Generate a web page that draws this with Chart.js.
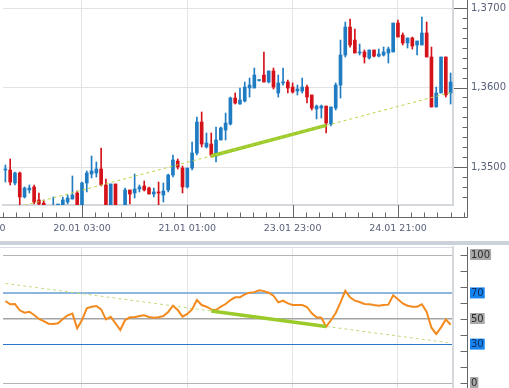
<!DOCTYPE html>
<html>
<head>
<meta charset="utf-8">
<script src="https://cdn.jsdelivr.net/npm/chart.js@4.4.1/dist/chart.umd.min.js"></script>
<style>
  html, body { margin: 0; padding: 0; background: #fff; }
  body { width: 509px; height: 388px; position: relative; overflow: hidden; }
  canvas { position: absolute; left: 0; display: block; }
  #priceChart { top: 0; }
  #rsiChart { top: 245px; }
  .sep { position: absolute; left: 0; top: 241px; width: 509px; height: 4px; background: #cbd2da; }
</style>
</head>
<body>
<canvas id="priceChart" width="509" height="241"></canvas>
<div class="sep"></div>
<canvas id="rsiChart" width="509" height="143"></canvas>
<script>
// hourly candles
const opens = [
  1.34962, 1.34962, 1.34799, 1.34925, 1.34623, 1.34711, 1.34749, 1.34585, 1.34547, 1.34500,
  1.34460, 1.34490, 1.34500, 1.34560, 1.34597, 1.34673, 1.34522, 1.34799, 1.34912, 1.34925,
  1.34975, 1.34774, 1.34510, 1.34786, 1.34510, 1.34500, 1.34711, 1.34673, 1.34723, 1.34761,
  1.34736, 1.34660, 1.34686, 1.34648, 1.34711, 1.34899, 1.35075, 1.34987, 1.34749, 1.34987,
  1.35176, 1.35566, 1.35252, 1.35289, 1.35138, 1.35340, 1.35465, 1.35541, 1.35868, 1.35792,
  1.35830, 1.35994, 1.35994, 1.36088, 1.36157, 1.36069, 1.36208, 1.35931, 1.36057, 1.36069,
  1.36006, 1.35956, 1.35956, 1.36006, 1.35906, 1.35730, 1.35742, 1.35767, 1.35541, 1.35742,
  1.36031, 1.36409, 1.36761, 1.36597, 1.36434, 1.36447, 1.36371, 1.36472, 1.36396, 1.36409,
  1.36434, 1.36447, 1.36811, 1.36660, 1.36560, 1.36623, 1.36535, 1.36535, 1.36686, 1.36384,
  1.35755, 1.35931, 1.36384, 1.35931
];
const highs = [
  1.35025, 1.35101, 1.34937, 1.34937, 1.34749, 1.34774, 1.34774, 1.34673, 1.34585, 1.34510,
  1.34623, 1.34510, 1.34623, 1.34648, 1.34887, 1.34698, 1.34811, 1.34950, 1.35138, 1.35063,
  1.35239, 1.34849, 1.34786, 1.34786, 1.34515, 1.34736, 1.34711, 1.34912, 1.34774, 1.34824,
  1.34749, 1.34736, 1.34811, 1.34799, 1.34912, 1.35151, 1.35101, 1.35013, 1.34987, 1.35314,
  1.35629, 1.35692, 1.35428, 1.35428, 1.35503, 1.35503, 1.35679, 1.35880, 1.35931, 1.35994,
  1.36069, 1.36119, 1.36245, 1.36094, 1.36447, 1.36208, 1.36245, 1.36157, 1.36245, 1.36094,
  1.36057, 1.36031, 1.36119, 1.36031, 1.35906, 1.35780, 1.35780, 1.35767, 1.35755, 1.36057,
  1.36597, 1.36824, 1.36862, 1.36736, 1.36547, 1.36472, 1.36472, 1.36472, 1.36484, 1.36509,
  1.36509, 1.36811, 1.36849, 1.36686, 1.36623, 1.36635, 1.36585, 1.36887, 1.36824, 1.36509,
  1.36006, 1.36384, 1.36384, 1.36182
];
const lows = [
  1.34811, 1.34774, 1.34774, 1.34509, 1.34610, 1.34673, 1.34535, 1.34509, 1.34509, 1.34450,
  1.34440, 1.34460, 1.34480, 1.34535, 1.34597, 1.34509, 1.34509, 1.34686, 1.34862, 1.34874,
  1.34761, 1.34490, 1.34490, 1.34490, 1.34400, 1.34490, 1.34535, 1.34610, 1.34686, 1.34698,
  1.34660, 1.34623, 1.34522, 1.34560, 1.34686, 1.34874, 1.34975, 1.34673, 1.34736, 1.34962,
  1.35151, 1.35252, 1.35239, 1.35126, 1.35063, 1.35340, 1.35340, 1.35528, 1.35792, 1.35792,
  1.35818, 1.35880, 1.35994, 1.36081, 1.36069, 1.36057, 1.35981, 1.35880, 1.36031, 1.35931,
  1.35931, 1.35906, 1.35931, 1.35805, 1.35717, 1.35604, 1.35616, 1.35428, 1.35516, 1.35717,
  1.35868, 1.36384, 1.36509, 1.36434, 1.36409, 1.36308, 1.36358, 1.36384, 1.36384, 1.36396,
  1.36308, 1.36447, 1.36635, 1.36535, 1.36497, 1.36484, 1.36409, 1.36535, 1.36384, 1.35755,
  1.35755, 1.35931, 1.35880, 1.35792
];
const closes = [
  1.34975, 1.34811, 1.34925, 1.34623, 1.34736, 1.34736, 1.34560, 1.34535, 1.34522, 1.34470,
  1.34500, 1.34500, 1.34585, 1.34610, 1.34648, 1.34522, 1.34799, 1.34925, 1.34950, 1.34975,
  1.34774, 1.34510, 1.34786, 1.34510, 1.34450, 1.34711, 1.34660, 1.34723, 1.34749, 1.34711,
  1.34660, 1.34686, 1.34673, 1.34698, 1.34899, 1.35088, 1.35000, 1.34749, 1.34987, 1.35176,
  1.35566, 1.35289, 1.35302, 1.35151, 1.35340, 1.35491, 1.35553, 1.35868, 1.35805, 1.35843,
  1.36006, 1.36031, 1.36157, 1.36094, 1.36069, 1.36208, 1.36006, 1.36057, 1.36069, 1.35994,
  1.35943, 1.35981, 1.36006, 1.35880, 1.35742, 1.35767, 1.35767, 1.35553, 1.35755, 1.36031,
  1.36409, 1.36761, 1.36535, 1.36434, 1.36447, 1.36384, 1.36472, 1.36396, 1.36421, 1.36447,
  1.36484, 1.36811, 1.36635, 1.36560, 1.36623, 1.36522, 1.36585, 1.36686, 1.36384, 1.35755,
  1.35931, 1.36384, 1.35906, 1.36069
];
const rsiValues = [
  64.1, 61.5, 61.7, 56.8, 54.9, 55.7, 53.1, 50.0, 48.4, 46.3,
  46.1, 46.6, 50.0, 52.9, 54.2, 42.7, 49.2, 58.3, 59.6, 60.2,
  57.5, 49.7, 51.8, 46.6, 41.4, 49.2, 51.3, 51.3, 52.3, 52.9,
  51.6, 51.0, 51.3, 52.3, 55.5, 60.4, 57.0, 51.8, 54.0, 57.5,
  64.8, 60.9, 59.6, 57.5, 57.0, 59.6, 61.7, 64.8, 66.9, 66.9,
  69.3, 70.6, 71.0, 72.4, 71.8, 70.5, 68.2, 63.0, 64.3, 62.2,
  60.9, 60.9, 60.9, 59.4, 54.4, 51.3, 51.0, 44.0, 49.0, 54.7,
  63.0, 72.0, 67.0, 64.3, 63.3, 61.7, 61.5, 60.9, 60.4, 60.9,
  61.2, 68.5, 65.5, 62.2, 60.4, 59.6, 59.6, 61.5, 55.5, 43.2,
  38.3, 43.5, 49.7, 45.5
];

// trend lines: endpoints only (candle index, value)
const priceTrend = [{ x: 4, y: 1.34517 }, { x: 93, y: 1.35937 }];
const priceTrendBold = [{ x: 43, y: 1.35139 }, { x: 67, y: 1.35523 }];
const rsiTrend = [{ x: 0, y: 77.8 }, { x: 93, y: 31.2 }];
const rsiTrendBold = [{ x: 43, y: 56.3 }, { x: 67, y: 44.2 }];

// axis labels
const xLabels = [[-6, '19.01 05:00'], [16, '20.01 03:00'], [38, '21.01 01:00'], [60, '23.01 23:00'], [82, '24.01 21:00']];
const xMajor = [16, 38, 60, 82];
const rsiLevels = [0, 30, 50, 70, 100];
const rsiMarks = [0, 12.5, 25, 37.5, 50, 62.5, 75, 87.5, 100];

const categories = opens.map((_, i) => i);
const blue = '#1f7cc2';
const red = '#d4121a';
const candleColors = opens.map((o, i) => closes[i] >= o ? blue : red);
const gridGrey = '#e3e3e3';
const frameGrey = '#d4d8dc';
const axisGrey = '#666';
const labelColor = '#596079';

Chart.defaults.font.family = "'DejaVu Sans', sans-serif";
Chart.defaults.font.size = 10;
Chart.defaults.animation = false;

function isMajorPrice(v) {
    return Math.abs(v * 100 - Math.round(v * 100)) < 1e-6;
}

// outer axes of the price panel (set apart from the plot frame)
const priceAxes = {
    id: 'priceAxes',
    afterDraw(chart) {
        const { ctx, chartArea: a, scales: { x, y } } = chart;
        const axX = a.right + 14.5;
        const axY = a.bottom + 12.5;
        ctx.save();
        ctx.strokeStyle = axisGrey;
        ctx.lineWidth = 1;
        ctx.beginPath();
        ctx.moveTo(0, axY);
        ctx.lineTo(axX, axY);
        ctx.moveTo(axX, 0);
        ctx.lineTo(axX, axY);
        // x ticks: majors + 7 minors in between
        const step = (xMajor[1] - xMajor[0]) / 8;
        for (let k = -12; k <= 40; k++) {
            const v = xMajor[0] + k * step;
            const px = Math.round(x.getPixelForValue(v)) + 0.5;
            if (px < 0 || px > axX) continue;
            const major = k % 8 === 0;
            ctx.moveTo(px, major ? a.bottom : axY - 5);
            ctx.lineTo(px, axY);
        }
        // y ticks
        y.ticks.forEach(t => {
            const py = Math.round(y.getPixelForValue(t.value)) + 0.5;
            ctx.moveTo(isMajorPrice(t.value) ? a.right + 1 : axX - 5, py);
            ctx.lineTo(axX, py);
        });
        ctx.stroke();

        ctx.fillStyle = labelColor;
        ctx.font = "9.5px 'DejaVu Sans', sans-serif";
        ctx.textAlign = 'center';
        ctx.textBaseline = 'top';
        xLabels.forEach(([i, s]) => {
            ctx.fillText(s, x.getPixelForValue(i), a.bottom + 18.5);
        });
        ctx.restore();
    }
};

const rsiAxes = {
    id: 'rsiAxes',
    afterDraw(chart) {
        const { ctx, chartArea: a, scales: { y } } = chart;
        const axX = a.right + 14.5;
        ctx.save();
        ctx.lineWidth = 1;
        ctx.strokeStyle = '#d9dee4';
        ctx.beginPath();
        ctx.moveTo(0, a.top + 0.5);
        ctx.lineTo(a.right, a.top + 0.5);
        ctx.stroke();
        ctx.strokeStyle = axisGrey;
        ctx.beginPath();
        ctx.moveTo(axX, a.top);
        ctx.lineTo(axX, chart.height);
        rsiMarks.forEach(v => {
            const py = Math.round(y.getPixelForValue(v)) + 0.5;
            ctx.moveTo(axX - 7, py);
            ctx.lineTo(axX, py);
        });
        ctx.stroke();
        ctx.restore();
    }
};

const xGridColor = (ctx) => xMajor.includes(ctx.index) ? gridGrey : 'rgba(0,0,0,0)';

new Chart(document.getElementById('priceChart'), {
    type: 'bar',
    data: {
        labels: categories,
        datasets: [
            {
                type: 'line',
                data: priceTrend,
                borderColor: '#bad445',
                borderWidth: 1,
                borderDash: [3, 3],
                pointRadius: 0,
                order: 0
            },
            {
                type: 'line',
                data: priceTrendBold,
                borderColor: '#9acb2a',
                borderWidth: 3.5,
                pointRadius: 0,
                order: 0
            },
            {
                // wicks
                data: categories.map(i => [lows[i], highs[i]]),
                backgroundColor: candleColors,
                barThickness: 1,
                grouped: false,
                order: 2
            },
            {
                // bodies
                data: categories.map(i => [opens[i], closes[i]]),
                backgroundColor: candleColors,
                barThickness: 3,
                minBarLength: 1,
                grouped: false,
                order: 1
            }
        ]
    },
    options: {
        responsive: false,
        layout: { padding: { left: 3, top: 0, right: 0, bottom: 0 } },
        plugins: { legend: { display: false }, tooltip: { enabled: false } },
        scales: {
            x: {
                offset: true,
                grid: { offset: false, drawTicks: false, color: xGridColor },
                border: { display: true, color: frameGrey, width: 2 },
                ticks: { display: false },
                afterFit: (s) => { s.height = 36; s.paddingLeft = 0; s.paddingRight = 0; }
            },
            y: {
                position: 'right',
                min: 1.34522,
                max: 1.37101,
                grid: {
                    drawTicks: false,
                    color: (ctx) => ctx.tick && isMajorPrice(ctx.tick.value) ? gridGrey : 'rgba(0,0,0,0)'
                },
                border: { display: true, color: frameGrey, width: 2 },
                ticks: {
                    stepSize: 0.00125,
                    includeBounds: false,
                    autoSkip: false,
                    padding: 18,
                    color: labelColor,
                    callback: (v) => isMajorPrice(v) ? v.toFixed(4).replace('.', ',') : ''
                },
                afterFit: (s) => { s.width = 56; s.paddingTop = 0; s.paddingBottom = 0; }
            }
        }
    },
    plugins: [priceAxes]
});

const levelStyle = {
    0: { line: '#b4b4b4', width: 1, text: '#2b2b2b', back: '#a9a9a9' },
    30: { line: '#2a78c8', width: 1, text: '#0d2f63', back: '#1784ee' },
    50: { line: '#a4a4a4', width: 1.5, text: '#2b2b2b', back: '#a9a9a9' },
    70: { line: '#8db6de', width: 2, text: '#0d2f63', back: '#1784ee' },
    100: { line: '#b4b4b4', width: 1, text: '#2b2b2b', back: '#a9a9a9' }
};
const lvl = (ctx) => levelStyle[ctx.tick ? ctx.tick.value : 0] || levelStyle[0];

new Chart(document.getElementById('rsiChart'), {
    type: 'line',
    data: {
        labels: categories,
        datasets: [
            {
                data: rsiValues,
                borderColor: '#f28a1e',
                borderWidth: 2,
                pointRadius: 0,
                order: 1
            },
            {
                data: rsiTrend,
                borderColor: '#c2da7c',
                borderWidth: 1,
                borderDash: [3, 3],
                pointRadius: 0,
                order: 2
            },
            {
                data: rsiTrendBold,
                borderColor: '#9acb2a',
                borderWidth: 3.5,
                pointRadius: 0,
                order: 0
            }
        ]
    },
    options: {
        responsive: false,
        layout: { padding: { left: 3, top: 2, right: 0, bottom: 0 } },
        plugins: { legend: { display: false }, tooltip: { enabled: false } },
        scales: {
            x: {
                offset: true,
                grid: { offset: false, drawTicks: false, color: xGridColor },
                border: { display: false },
                ticks: { display: false },
                afterFit: (s) => { s.height = 0; s.paddingLeft = 0; s.paddingRight = 0; }
            },
            y: {
                position: 'right',
                min: -3.9,
                max: 106.25,
                afterBuildTicks: (s) => { s.ticks = rsiLevels.map(v => ({ value: v })); },
                grid: {
                    drawTicks: false,
                    color: (ctx) => lvl(ctx).line,
                    lineWidth: (ctx) => lvl(ctx).width
                },
                border: { display: true, color: frameGrey, width: 2 },
                ticks: {
                    autoSkip: false,
                    padding: 18,
                    font: { size: 10, lineHeight: 1 },
                    color: (ctx) => lvl(ctx).text,
                    showLabelBackdrop: true,
                    backdropColor: (ctx) => lvl(ctx).back,
                    backdropPadding: { top: 1, bottom: 0, left: 1, right: 1 },
                    callback: (v) => String(v)
                },
                afterFit: (s) => { s.width = 56; s.paddingTop = 0; s.paddingBottom = 0; }
            }
        }
    },
    plugins: [rsiAxes]
});
</script>
</body>
</html>
